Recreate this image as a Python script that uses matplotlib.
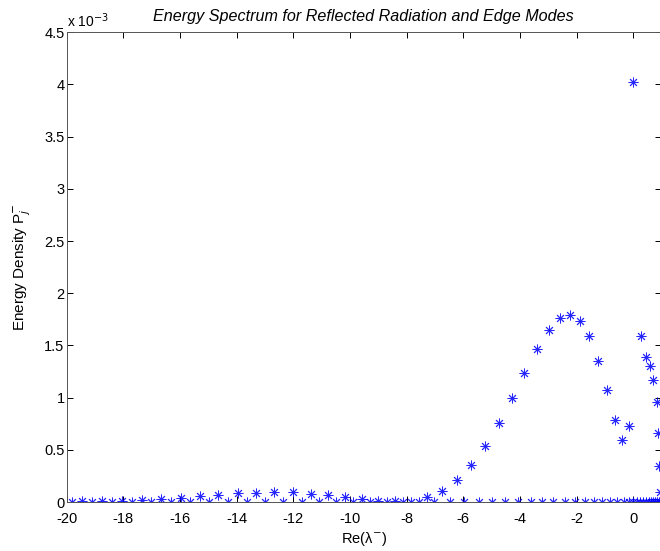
import matplotlib.pyplot as plt

plt.rcParams['font.family'] = ['Liberation Sans', 'DejaVu Sans']
plt.rcParams['axes.unicode_minus'] = False

# energy density values in units of 1e-3
# radiation modes (the ones with a visible hump)
rad_x = [-19.45, -18.76, -18.06, -17.35, -16.67, -15.98, -15.29, -14.65, -13.96, -13.32,
         -12.67, -12.02, -11.39, -10.77, -10.18, -9.57, -9.00, -8.41, -7.85,
         -7.29, -6.74, -6.23, -5.73, -5.23, -4.75, -4.28, -3.85, -3.41, -2.99,
         -2.60, -2.22, -1.89, -1.56, -1.24, -0.92, -0.65, -0.41, -0.16,
         0.00, 0.26, 0.45, 0.58, 0.70, 0.82, 0.88, 0.91, 0.93]
rad_y = [0.006, 0.006, 0.013, 0.019, 0.029, 0.038, 0.054, 0.070, 0.083, 0.089,
         0.096, 0.093, 0.080, 0.064, 0.048, 0.029, 0.013, 0.006, 0.003,
         0.051, 0.105, 0.211, 0.352, 0.536, 0.760, 0.996, 1.239, 1.463, 1.645,
         1.760, 1.794, 1.734, 1.590, 1.353, 1.073, 0.785, 0.594, 0.728,
         4.020, 1.595, 1.390, 1.305, 1.169, 0.955, 0.660, 0.348, 0.095]

# modes lying on the axis
flat_x = [-19.80, -19.10, -18.41, -17.71, -17.02, -16.32, -15.65, -14.98, -14.32, -13.65,
          -13.00, -12.35, -11.71, -11.08, -10.49, -9.88, -9.29, -8.70, -8.14, -7.56,
          -7.02, -6.47, -5.97, -5.46, -4.99, -4.52, -4.06, -3.61, -3.22, -2.83,
          -2.41, -2.06, -1.71, -1.40, -1.12, -0.84, -0.57, -0.33, -0.15, 0.00,
          0.12, 0.23, 0.35, 0.44, 0.54, 0.62, 0.70, 0.77, 0.84, 0.91, 0.95]
flat_y = [0.0] * len(flat_x)

x_ticks = list(range(-20, 1, 2))
y_ticks = [0, 0.5, 1, 1.5, 2, 2.5, 3, 3.5, 4, 4.5]

fig = plt.figure(figsize=(6.6, 5.51), dpi=100)
ax = fig.add_axes([66.7 / 660, 49 / 551, 594.3 / 660, 469.7 / 551])

star = (8, 2, 0)
ax.plot(flat_x, flat_y, linestyle='none', marker=star, color='blue',
        markersize=7, markeredgewidth=0.65, alpha=0.85)
ax.plot(rad_x, rad_y, linestyle='none', marker=star, color='blue',
        markersize=7, markeredgewidth=0.65, alpha=0.85)

ax.set_xlim(-20, 0.977)
ax.set_ylim(0, 4.5)
ax.set_xticks(x_ticks)
ax.set_yticks(y_ticks)
ax.set_yticklabels(['0', '0.5', '1', '1.5', '2', '2.5', '3', '3.5', '4', '4.5'])
ax.tick_params(direction='in', length=4, width=0.7, top=True, right=True,
               labelsize=10.5, colors='black')
ax.tick_params(axis='x', pad=7)
ax.tick_params(axis='y', pad=1.5)
for s in ax.spines.values():
    s.set_linewidth(0.7)
    s.set_color('#555555')

ax.text(0.0, 1.004, r'x 10$^{-3}$', transform=ax.transAxes, fontsize=10,
        ha='left', va='bottom')
ax.set_title('Energy Spectrum for Reflected Radiation and Edge Modes',
             fontsize=11.6, style='italic', pad=8)
ax.set_xlabel('Re(λ$^{-}$)', fontsize=10.5, labelpad=3)
ax.set_ylabel(r'Energy Density P$_j^{-}$', fontsize=11, labelpad=8)

fig.savefig('out.png', dpi=100)
